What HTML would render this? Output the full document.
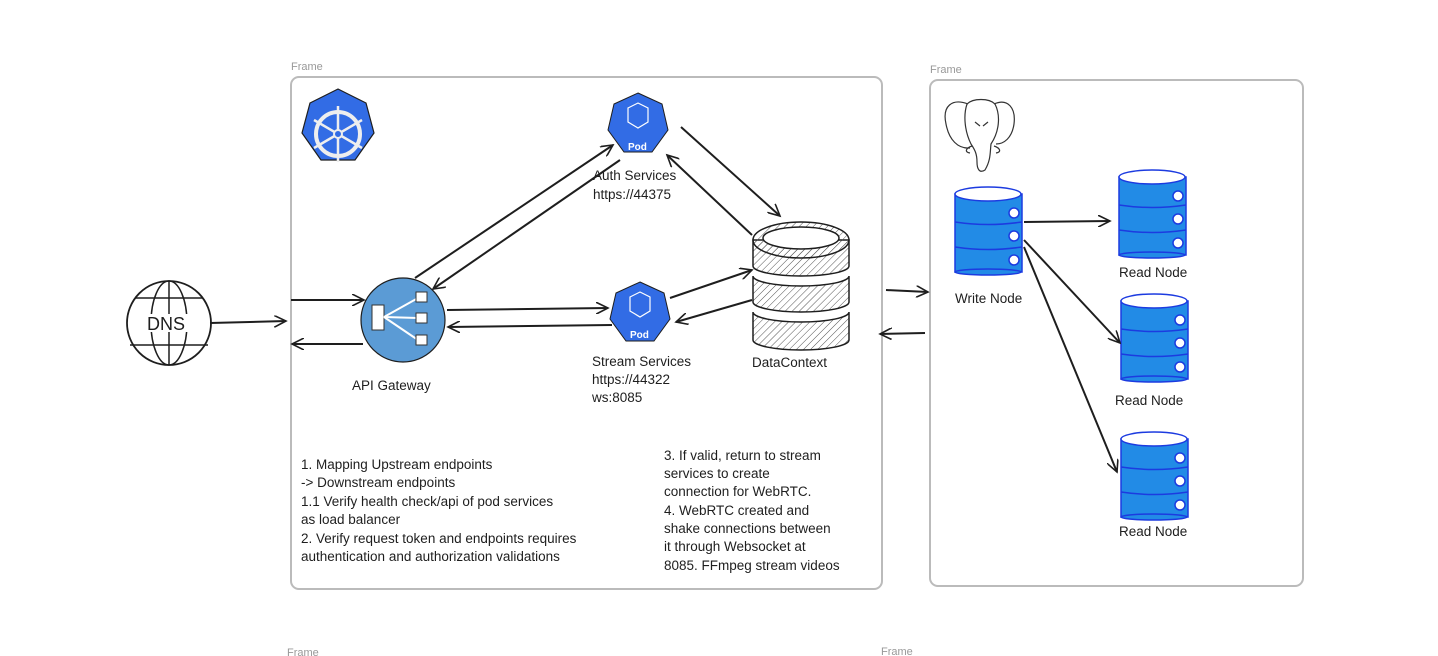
<!DOCTYPE html>
<html><head><meta charset="utf-8"><style>
html,body{margin:0;padding:0;background:#fff;width:1438px;height:656px;overflow:hidden}
svg{display:block}
text{font-family:"Liberation Sans",sans-serif;}
.t{font-size:13.5px;fill:#1e1e1e}
.f{font-size:11px;fill:#999}
</style></head><body>
<svg width="1438" height="656" viewBox="0 0 1438 656" xmlns="http://www.w3.org/2000/svg">
<defs>
<marker id="a" markerWidth="14" markerHeight="12" refX="12" refY="6" orient="auto" markerUnits="userSpaceOnUse">
<path d="M0,0 L12,6 L0,12" fill="none" stroke="#1e1e1e" stroke-width="1.6"/></marker>
<pattern id="h" width="5" height="5" patternUnits="userSpaceOnUse" patternTransform="rotate(45)">
<line x1="0" y1="0" x2="0" y2="5" stroke="#555" stroke-width="1"/></pattern>
</defs>
<text class="f" x="291" y="70">Frame</text>
<rect x="291" y="77" width="591" height="512" rx="8" fill="none" stroke="#bbb" stroke-width="2"/>
<text class="f" x="930" y="73">Frame</text>
<rect x="930" y="80" width="373" height="506" rx="8" fill="none" stroke="#bbb" stroke-width="2"/>
<text class="f" x="287" y="656">Frame</text>
<text class="f" x="881" y="655">Frame</text>

<polygon points="338,89 366,103 374,133 355,160 321,160 302,133 310,103" fill="#326ce5" stroke="#1e1e1e" stroke-width="1.2"/>
<circle cx="338" cy="134" r="22" fill="none" stroke="#eee" stroke-width="4"/>
<g stroke="#eee" stroke-width="2.5"><line x1="338" y1="106" x2="338" y2="162"/><line x1="314" y1="120" x2="362" y2="148"/><line x1="314" y1="148" x2="362" y2="120"/></g>
<circle cx="338" cy="134" r="4" fill="#326ce5" stroke="#eee" stroke-width="2"/>

<g>
<polygon points="638,93 662,104 668,130 652,152 624,152 608,130 614,104" fill="#326ce5" stroke="#1e1e1e"/>
<path d="M628,108 l10,-5 l10,5 v14 l-10,6 l-10,-6z" fill="none" stroke="#fff" stroke-width="1.2"/>
<text x="628" y="150" font-size="10" font-weight="bold" fill="#fff">Pod</text>
</g>
<g>
<polygon points="640,282 664,293 670,319 654,341 626,341 610,319 616,293" fill="#326ce5" stroke="#1e1e1e"/>
<path d="M630,297 l10,-5 l10,5 v14 l-10,6 l-10,-6z" fill="none" stroke="#fff" stroke-width="1.2"/>
<text x="630" y="338" font-size="10" font-weight="bold" fill="#fff">Pod</text>
</g>
<text class="t" x="593" y="180">Auth Services</text>
<text class="t" x="593" y="199">https://44375</text>
<text class="t" x="592" y="366">Stream Services</text>
<text class="t" x="592" y="384">https://44322</text>
<text class="t" x="592" y="402">ws:8085</text>

<circle cx="403" cy="320" r="42" fill="#5b9bd5" stroke="#1e1e1e" stroke-width="1.2"/>
<rect x="372" y="305" width="12" height="25" fill="#fff" stroke="#333"/>
<g stroke="#fff" stroke-width="2"><line x1="384" y1="317" x2="418" y2="298"/><line x1="384" y1="317" x2="418" y2="318"/><line x1="384" y1="317" x2="418" y2="340"/></g>
<rect x="416" y="292" width="11" height="10" fill="#fff" stroke="#333"/>
<rect x="416" y="313" width="11" height="10" fill="#fff" stroke="#333"/>
<rect x="416" y="335" width="11" height="10" fill="#fff" stroke="#333"/>
<text class="t" x="352" y="390">API Gateway</text>

<g stroke="#1e1e1e" stroke-width="1.5" fill="url(#h)">
<path d="M753,312 v28 a48,10 0 0 0 96,0 v-28 a48,10 0 0 1 -96,0z"/>
<path d="M753,276 v26 a48,10 0 0 0 96,0 v-26 a48,10 0 0 1 -96,0z"/>
<path d="M753,240 v26 a48,10 0 0 0 96,0 v-26z"/>
<ellipse cx="801" cy="240" rx="48" ry="18"/>
<ellipse cx="801" cy="238" rx="38" ry="11" fill="#fff"/>
</g>
<text class="t" x="752" y="367">DataContext</text>

<circle cx="169" cy="323" r="42" fill="#fff" stroke="#1e1e1e" stroke-width="1.8"/>
<ellipse cx="169" cy="323" rx="18" ry="42" fill="none" stroke="#1e1e1e" stroke-width="1.5"/>
<line x1="169" y1="281" x2="169" y2="365" stroke="#1e1e1e" stroke-width="1.5"/>
<path d="M135,298 h68 M130,345 h78" stroke="#1e1e1e" stroke-width="1.5"/>
<rect x="146" y="314" width="46" height="18" fill="#fff"/>
<text x="147" y="330" font-size="18" fill="#1e1e1e">DNS</text>

<g fill="none" stroke="#333" stroke-width="1.2">
<path d="M968,104 c-16,-6 -26,2 -22,20 c3,16 12,25 24,24"/>
<path d="M994,104 c14,-6 22,4 20,20 c-2,14 -10,20 -18,20"/>
<path d="M967,104 c6,-6 22,-6 28,0 c6,12 4,28 -4,40 c-1,8 0,16 -6,26 c-6,4 -8,-2 -8,-8 c0,-8 -2,-12 -6,-18 c-6,-12 -8,-28 -4,-40z"/>
<path d="M975,122 l5,4 M988,122 l-5,4 M972,146 c-6,2 -8,6 -2,7 M994,146 c6,2 8,6 2,7"/>
</g>

<g id="db" stroke="#1c3be0" stroke-width="1.5">
<rect x="955" y="194" width="67" height="78" fill="#228be6"/>
<ellipse cx="988" cy="272" rx="33" ry="3" fill="#228be6"/>
<ellipse cx="988" cy="194" rx="33" ry="7" fill="#fff"/>
<path d="M955,222 q33,5 67,0 M955,247 q33,5 67,0" fill="none"/>
<circle cx="1014" cy="213" r="5" fill="#fff"/><circle cx="1014" cy="236" r="5" fill="#fff"/><circle cx="1014" cy="260" r="5" fill="#fff"/>
</g>
<use href="#db" x="164" y="-17"/>
<use href="#db" x="166" y="107"/>
<use href="#db" x="166" y="245"/>
<text class="t" x="955" y="303">Write Node</text>
<text class="t" x="1119" y="277">Read Node</text>
<text class="t" x="1115" y="405">Read Node</text>
<text class="t" x="1119" y="536">Read Node</text>

<g stroke="#1e1e1e" stroke-width="2" fill="none" marker-end="url(#a)">
<line x1="210" y1="323" x2="286" y2="321"/>
<line x1="291" y1="300" x2="364" y2="300"/>
<line x1="363" y1="344" x2="292" y2="344"/>
<line x1="415" y1="278" x2="613" y2="145"/>
<line x1="620" y1="160" x2="433" y2="289"/>
<line x1="447" y1="310" x2="608" y2="308"/>
<line x1="612" y1="325" x2="448" y2="327"/>
<line x1="681" y1="127" x2="780" y2="216"/>
<line x1="752" y1="235" x2="667" y2="155"/>
<line x1="670" y1="298" x2="752" y2="270"/>
<line x1="752" y1="300" x2="676" y2="322"/>
<line x1="886" y1="290" x2="928" y2="292"/>
<line x1="925" y1="333" x2="880" y2="334"/>
<line x1="1024" y1="222" x2="1110" y2="221"/>
<line x1="1024" y1="240" x2="1120" y2="343"/>
<line x1="1024" y1="247" x2="1117" y2="472"/>
</g>

<text class="t" x="301" y="469">1. Mapping Upstream endpoints</text>
<text class="t" x="301" y="487">-&gt; Downstream endpoints</text>
<text class="t" x="301" y="506">1.1 Verify health check/api of pod services</text>
<text class="t" x="301" y="524">as load balancer</text>
<text class="t" x="301" y="543">2. Verify request token and endpoints requires</text>
<text class="t" x="301" y="561">authentication and authorization validations</text>
<text class="t" x="664" y="460">3. If valid, return to stream</text>
<text class="t" x="664" y="478">services to create</text>
<text class="t" x="664" y="496">connection for WebRTC.</text>
<text class="t" x="664" y="515">4. WebRTC created and</text>
<text class="t" x="664" y="533">shake connections between</text>
<text class="t" x="664" y="551">it through Websocket at</text>
<text class="t" x="664" y="570">8085. FFmpeg stream videos</text>
</svg>
</body></html>
